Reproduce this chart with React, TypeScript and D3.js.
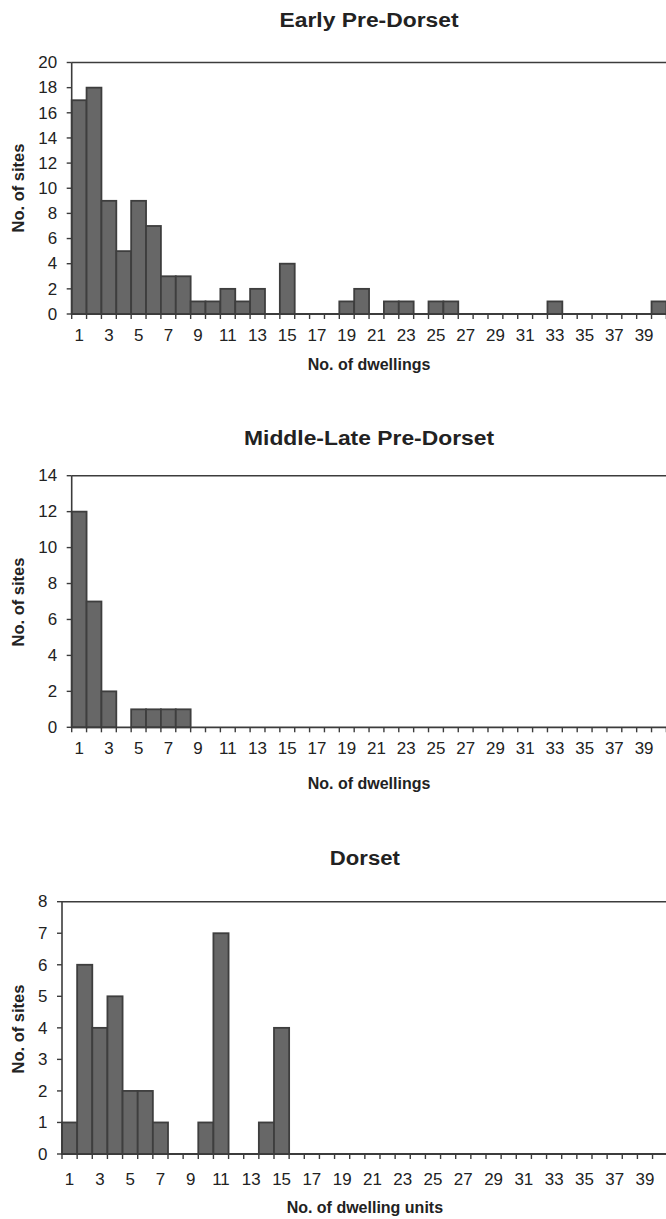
import React from "react";
import * as d3 from "d3";

const bins: number[] = d3.range(1, 41);
const tickLabels: number[] = d3.range(1, 40, 2);

const earlyPreDorset: number[] = [17, 18, 9, 5, 9, 7, 3, 3, 1, 1, 2, 1, 2, 0, 4, 0, 0, 0, 1, 2, 0, 1, 1, 0, 1, 1, 0, 0, 0, 0, 0, 0, 1, 0, 0, 0, 0, 0, 0, 1];
const middleLatePreDorset: number[] = [12, 7, 2, 0, 1, 1, 1, 1, 0, 0, 0, 0, 0, 0, 0, 0, 0, 0, 0, 0, 0, 0, 0, 0, 0, 0, 0, 0, 0, 0, 0, 0, 0, 0, 0, 0, 0, 0, 0, 0];
const dorset: number[] = [1, 6, 4, 5, 2, 2, 1, 0, 0, 1, 7, 0, 0, 1, 4, 0, 0, 0, 0, 0, 0, 0, 0, 0, 0, 0, 0, 0, 0, 0, 0, 0, 0, 0, 0, 0, 0, 0, 0, 0];

const titles: string[] = ["Early Pre-Dorset", "Middle-Late Pre-Dorset", "Dorset"];
const xTitles: string[] = ["No. of dwellings", "No. of dwellings", "No. of dwelling units"];
const yTitle = "No. of sites";
const yMaxes: number[] = [20, 14, 8];
const ySteps: number[] = [2, 2, 1];

type Layout = {
  left: number; right: number; top: number; bottom: number;
  titleY: number; titleLen: number; xTickY: number; xTitleY: number; yTitleCy: number;
};

const layouts: Layout[] = [
  { left: 71.7, right: 666.4, top: 62.5, bottom: 314, titleY: 27, titleLen: 179, xTickY: 341, xTitleY: 370, yTitleCy: 188 },
  { left: 71.7, right: 666.4, top: 475.7, bottom: 727.3, titleY: 445, titleLen: 250, xTickY: 754, xTitleY: 789, yTitleCy: 602 },
  { left: 62, right: 667.7, top: 901.7, bottom: 1154, titleY: 865, titleLen: 70, xTickY: 1185, xTitleY: 1213, yTitleCy: 1029 },
];

const FONT = "'Liberation Sans', Arial, Helvetica, sans-serif";
const TEXT = "#222";
const AXIS = "#3c3c3c";
const FILL = "#676767";
const EDGE = "#3e3e3e";

function Panel({ data, idx }: { data: number[]; idx: number }) {
  const L = layouts[idx];
  const x = d3.scaleBand<number>().domain(bins).range([L.left, L.right]).padding(0);
  const y = d3.scaleLinear().domain([0, yMaxes[idx]]).range([L.bottom, L.top]);
  const yTicks = d3.range(0, yMaxes[idx] + 0.001, ySteps[idx]);
  const bw = x.bandwidth();
  const edges = d3.range(0, bins.length + 1).map((i) => L.left + i * bw);
  const cx = (L.left + L.right) / 2;
  return (
    <g fontFamily={FONT}>
      <text x={cx} y={L.titleY} textAnchor="middle" fontSize={20} fontWeight="bold" fill={TEXT}
        textLength={L.titleLen} lengthAdjust="spacingAndGlyphs">{titles[idx]}</text>
      <line x1={L.left} x2={L.right} y1={y(yMaxes[idx])} y2={y(yMaxes[idx])} stroke={AXIS} strokeWidth={1.4} />
      {data.map((v, i) =>
        v > 0 ? (
          <rect key={i} x={x(bins[i])} y={y(v)} width={bw} height={y(0) - y(v)} fill={FILL} stroke={EDGE} strokeWidth={1.8} />
        ) : null
      )}
      <line x1={L.left} x2={L.left} y1={L.top} y2={L.bottom} stroke={AXIS} strokeWidth={1.6} />
      {yTicks.map((t) => (
        <g key={t}>
          <line x1={L.left - 5} x2={L.left} y1={y(t)} y2={y(t)} stroke={AXIS} strokeWidth={1.4} />
          <text transform={`translate(${L.left - 14.5},${y(t)}) scale(1.06,1)`} dy="0.36em" textAnchor="end" fontSize={16} fill={TEXT}>{t}</text>
        </g>
      ))}
      <line x1={L.left} x2={L.right} y1={L.bottom} y2={L.bottom} stroke={AXIS} strokeWidth={1.8} />
      {edges.map((e, i) => (
        <line key={i} x1={e} x2={e} y1={L.bottom} y2={L.bottom + 5} stroke={AXIS} strokeWidth={1.4} />
      ))}
      {tickLabels.map((t) => (
        <text key={t} transform={`translate(${(x(t) as number) + bw / 2},${L.xTickY}) scale(1.06,1)`} textAnchor="middle" fontSize={16} fill={TEXT}>{t}</text>
      ))}
      <text x={cx} y={L.xTitleY} textAnchor="middle" fontSize={16} fontWeight="bold" fill={TEXT}>{xTitles[idx]}</text>
      <text transform={`translate(24,${L.yTitleCy}) rotate(-90)`} textAnchor="middle" fontSize={16.5} fontWeight="bold" fill={TEXT}>{yTitle}</text>
    </g>
  );
}

export default function App() {
  const series = [earlyPreDorset, middleLatePreDorset, dorset];
  return (
    <svg width={666} height={1219} style={{ position: "absolute", left: 0, top: 0, background: "#fff" }}>
      <rect width={666} height={1219} fill="#fff" />
      {series.map((s, i) => (
        <Panel key={i} data={s} idx={i} />
      ))}
    </svg>
  );
}
